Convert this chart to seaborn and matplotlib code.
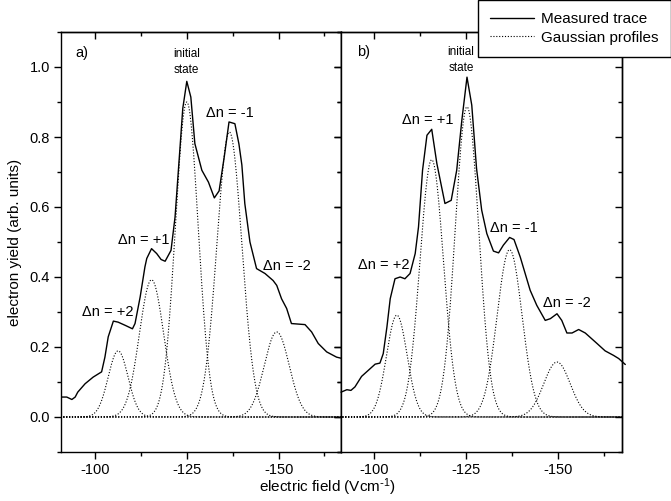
import numpy as np
import pandas as pd
import matplotlib
matplotlib.use("Agg")
import matplotlib.pyplot as plt
import seaborn as sns
from matplotlib.ticker import MultipleLocator, FixedLocator, FormatStrFormatter

sns.set_style("ticks", rc={"axes.edgecolor": "black", "xtick.color": "black",
                           "ytick.color": "black", "text.color": "black",
                           "axes.labelcolor": "black"})
plt.rcParams["font.family"] = ["Liberation Sans", "DejaVu Sans"]
plt.rcParams["axes.unicode_minus"] = False
plt.rcParams["mathtext.default"] = "regular"

# ---------------- data ----------------
field_a = [-90.7, -92.3, -93.7, -94.6, -95.3, -97.3, -99.5, -101.8, -102.7, -103.6,
           -105.0, -106.3, -108.2, -110.2, -110.9, -112.3, -113.6, -114.1, -115.4, -116.8,
           -118.0, -119.1, -120.7, -121.8, -123.1, -123.9, -125.0, -126.1, -127.2, -129.1,
           -130.9, -132.5, -133.8, -135.2, -136.5, -138.1, -139.2, -140.0, -140.8, -142.2,
           -144.0, -146.3, -148.5, -149.5, -150.8, -152.2, -153.5, -157.2, -159.0, -160.8,
           -163.1, -165.8, -167.0]
yield_a = [0.057, 0.057, 0.050, 0.057, 0.071, 0.095, 0.114, 0.129, 0.171, 0.229,
           0.274, 0.271, 0.262, 0.252, 0.267, 0.343, 0.429, 0.453, 0.481, 0.467,
           0.450, 0.445, 0.476, 0.571, 0.762, 0.881, 0.959, 0.914, 0.781, 0.705,
           0.671, 0.626, 0.646, 0.743, 0.843, 0.838, 0.780, 0.720, 0.610, 0.500,
           0.424, 0.410, 0.390, 0.376, 0.338, 0.310, 0.267, 0.264, 0.243, 0.210,
           0.186, 0.171, 0.168]

field_b = [-91.0, -92.6, -93.7, -94.8, -96.6, -98.4, -100.3, -101.6, -102.5, -103.5,
           -104.4, -105.7, -107.1, -108.4, -109.8, -111.2, -112.1, -113.2, -114.4, -115.7,
           -117.1, -119.3, -121.0, -122.5, -123.9, -125.3, -126.6, -127.9, -129.3, -130.7,
           -132.5, -133.9, -135.2, -136.9, -138.1, -139.8, -142.5, -144.3, -146.6, -148.0,
           -149.8, -151.1, -152.5, -153.9, -155.7, -157.5, -160.7, -162.9, -165.2, -166.6,
           -168.4]
yield_b = [0.071, 0.078, 0.076, 0.086, 0.116, 0.133, 0.151, 0.154, 0.181, 0.257,
           0.338, 0.395, 0.400, 0.395, 0.410, 0.467, 0.543, 0.705, 0.805, 0.822,
           0.724, 0.610, 0.619, 0.705, 0.848, 0.971, 0.891, 0.710, 0.591, 0.524,
           0.474, 0.469, 0.491, 0.513, 0.507, 0.457, 0.362, 0.319, 0.276, 0.281,
           0.295, 0.276, 0.240, 0.240, 0.250, 0.240, 0.210, 0.189, 0.176, 0.167,
           0.150]

# Gaussian profile parameters (centre, height, width) for each transition
peak_names = ["+2", "+1", "0", "-1", "-2"]
centre_a = [-106.3, -115.4, -125.0, -136.6, -149.5]
height_a = [0.189, 0.392, 0.900, 0.814, 0.243]
sigma_a = [2.7, 3.3, 3.1, 3.4, 3.4]
centre_b = [-106.2, -115.7, -125.3, -136.9, -149.8]
height_b = [0.291, 0.735, 0.886, 0.478, 0.157]
sigma_b = [2.8, 3.2, 3.2, 3.4, 3.6]

x_ticks = [-100, -125, -150]
x_minor = [-87.5, -112.5, -137.5, -162.5]

# ---------------- figure ----------------
W, H = 671, 501
fig = plt.figure(figsize=(W / 100, H / 100), dpi=100)
ax_a = fig.add_axes([61 / W, 1 - 452 / H, 280 / W, 420 / H])
ax_b = fig.add_axes([341 / W, 1 - 452 / H, 281 / W, 420 / H])


def gauss_frame(centres, heights, sigmas):
    grid = np.arange(-89.0, -169.01, -0.1)
    frames = []
    for name, c, h, s in zip(peak_names, centres, heights, sigmas):
        frames.append(pd.DataFrame({"field": grid,
                                    "yield": h * np.exp(-0.5 * ((grid - c) / s) ** 2),
                                    "peak": name}))
    return frames


def draw_panel(ax, fx, fy, centres, heights, sigmas, xlim, clip=True):
    for i, g in enumerate(gauss_frame(centres, heights, sigmas)):
        sns.lineplot(data=g, x="field", y="yield", ax=ax, color="black",
                     linestyle=(0, (1.0, 1.6)), linewidth=0.8, sort=False,
                     estimator=None, legend=False,
                     label="Gaussian profiles" if i == 0 else None)
    df = pd.DataFrame({"field": fx, "yield": fy})
    sns.lineplot(data=df, x="field", y="yield", ax=ax, color="black",
                 linewidth=1.0, sort=False, estimator=None, legend=False,
                 label="Measured trace", clip_on=clip)
    ax.set_xlim(*xlim)
    ax.set_ylim(-0.1, 1.1)
    ax.set_xlabel("")
    ax.set_ylabel("")
    ax.xaxis.set_major_locator(FixedLocator(x_ticks))
    ax.xaxis.set_minor_locator(FixedLocator(x_minor))
    ax.xaxis.set_major_formatter(FormatStrFormatter("%d"))
    ax.yaxis.set_major_locator(MultipleLocator(0.2))
    ax.yaxis.set_minor_locator(MultipleLocator(0.1))
    ax.yaxis.set_major_formatter(FormatStrFormatter("%.1f"))
    ax.tick_params(which="both", direction="out", top=False, right=False,
                   width=1.0, labelsize=10.5, pad=3)
    ax.tick_params(which="major", length=5)
    ax.tick_params(which="minor", length=3)
    for sp in ax.spines.values():
        sp.set_linewidth(1.0)
        sp.set_color("black")
    secx = ax.secondary_xaxis("top")
    secx.xaxis.set_major_locator(FixedLocator(x_ticks))
    secx.xaxis.set_minor_locator(FixedLocator(x_minor))
    secx.tick_params(which="both", direction="in", labeltop=False, width=1.0)
    secx.tick_params(which="major", length=5)
    secx.tick_params(which="minor", length=3)
    secx.spines["top"].set_linewidth(1.0)
    secy = ax.secondary_yaxis("right")
    secy.yaxis.set_major_locator(MultipleLocator(0.2))
    secy.yaxis.set_minor_locator(MultipleLocator(0.1))
    secy.tick_params(which="both", direction="in", labelright=False, width=1.0)
    secy.tick_params(which="major", length=5)
    secy.tick_params(which="minor", length=3)
    secy.spines["right"].set_linewidth(1.0)


draw_panel(ax_a, field_a, yield_a, centre_a, height_a, sigma_a, (-90.74, -167.0))
draw_panel(ax_b, field_b, yield_b, centre_b, height_b, sigma_b, (-91.0, -167.5), clip=False)
ax_b.tick_params(labelleft=False)

# annotations
fs = 10.5
ax_a.text(-96.5, 1.039, "a)", ha="center", va="center", fontsize=fs)
ax_a.text(-125.0, 1.013, "initial\nstate", ha="center", va="center", fontsize=8.5, linespacing=1.45)
ax_a.text(-136.8, 0.868, "\u0394n = -1", ha="center", va="center", fontsize=fs)
ax_a.text(-113.3, 0.507, "\u0394n = +1", ha="center", va="center", fontsize=fs)
ax_a.text(-152.2, 0.431, "\u0394n = -2", ha="center", va="center", fontsize=fs)
ax_a.text(-103.4, 0.299, "\u0394n = +2", ha="center", va="center", fontsize=fs)

ax_b.text(-97.1, 1.042, "b)", ha="center", va="center", fontsize=fs)
ax_b.text(-123.7, 1.019, "initial\nstate", ha="center", va="center", fontsize=8.5, linespacing=1.45)
ax_b.text(-114.7, 0.848, "\u0394n = +1", ha="center", va="center", fontsize=fs)
ax_b.text(-138.0, 0.539, "\u0394n = -1", ha="center", va="center", fontsize=fs)
ax_b.text(-102.7, 0.433, "\u0394n = +2", ha="center", va="center", fontsize=fs)
ax_b.text(-152.4, 0.325, "\u0394n = -2", ha="center", va="center", fontsize=fs)

fig.text(15 / W, 1 - 242 / H, "electron yield (arb. units)", rotation=90,
         ha="center", va="center", fontsize=11)
fig.text(327 / W, 1 - 487 / H, r"electric field (Vcm$^{\text{-}1}$)",
         ha="center", va="center", fontsize=11)

handles, labels = ax_a.get_legend_handles_labels()
order = [labels.index("Measured trace"), labels.index("Gaussian profiles")]
leg = fig.legend([handles[i] for i in order], [labels[i] for i in order],
                 loc="upper right", bbox_to_anchor=(1.0, 1.0),
                 bbox_transform=fig.transFigure, fontsize=11, frameon=True,
                 fancybox=False, framealpha=1, edgecolor="black",
                 borderpad=0.8, handlelength=2.9, handletextpad=0.45,
                 labelspacing=0.3, borderaxespad=0.0)
leg.get_frame().set_linewidth(1.0)

fig.savefig("out.png", dpi=100)
